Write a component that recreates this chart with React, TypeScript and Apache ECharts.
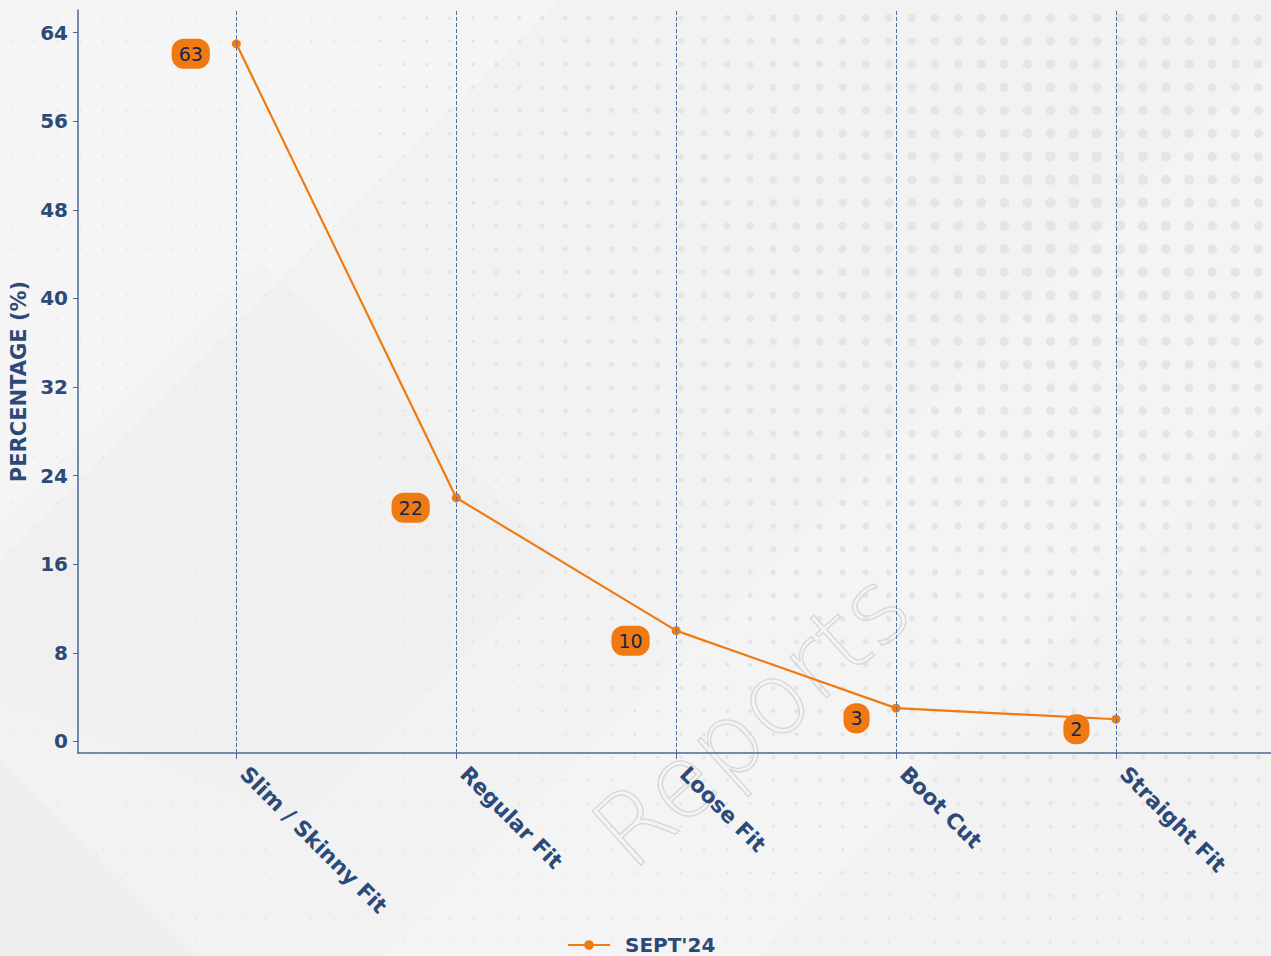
import React, { useEffect, useRef } from "react";
import * as echarts from "echarts";

const categories = ["Slim / Skinny Fit", "Regular Fit", "Loose Fit", "Boot Cut", "Straight Fit"];
const sept24 = [63, 22, 10, 3, 2];
const yTicks = [0, 8, 16, 24, 32, 40, 48, 56, 64];
const seriesName = "SEPT'24";

const W = 1271;
const H = 956;
const AXIS = "#4a6896";
const TEXT = "#2c4a77";
const ORANGE = "#f07a12";

function buildBackground(): any[] {
  const els: any[] = [];
  els.push({ type: "rect", z: -20, shape: { x: 0, y: 0, width: W, height: H }, style: { fill: "#f2f2f2" }, silent: true });
  els.push({ type: "polygon", z: -19, shape: { points: [[0, 0], [560, 0], [0, 560]] }, style: { fill: "rgba(255,255,255,0.25)" }, silent: true });
  els.push({ type: "polygon", z: -19, shape: { points: [[0, 520], [260, 260], [560, 560], [300, 820], [0, 700]] }, style: { fill: "rgba(0,0,0,0.008)" }, silent: true });
  els.push({ type: "polygon", z: -19, shape: { points: [[0, 760], [200, 956], [0, 956]] }, style: { fill: "rgba(0,0,0,0.012)" }, silent: true });
  els.push({ type: "polygon", z: -19, shape: { points: [[380, 956], [1271, 60], [1271, 420], [760, 956]] }, style: { fill: "rgba(255,255,255,0.15)" }, silent: true });
  const cx = 1090, cy = 210;
  for (let x = 11; x < W; x += 23.1) {
    for (let y = 18; y < H; y += 23.1) {
      const d = Math.hypot(x - cx, y - cy);
      let r = 5.5 - d * 0.0056;
      if (x < 370) r = Math.min(r, 0.9);
      if (r < 0.9) r = 0.9;
      els.push({ type: "circle", z: -18, silent: true, shape: { cx: x, cy: y, r }, style: { fill: "#e5e5e5" } });
    }
  }
  els.push({
    type: "text",
    z: -17,
    silent: true,
    x: 642,
    y: 885,
    rotation: (42 * Math.PI) / 180,
    style: {
      text: "Reports",
      fontSize: 100,
      fontFamily: "DejaVu Sans",
      fontWeight: 200,
      fill: "rgba(0,0,0,0)",
      stroke: "#d6d6d6",
      lineWidth: 1.3,
      textAlign: "left",
      textVerticalAlign: "bottom",
    },
  });
  return els;
}

export default function App() {
  const ref = useRef<HTMLDivElement>(null);
  useEffect(() => {
    if (!ref.current) return;
    const chart = echarts.init(ref.current, null, { renderer: "svg" });
    const idx = categories.map((_, i) => i);
    chart.setOption({
      animation: false,
      textStyle: { fontFamily: "DejaVu Sans" },
      graphic: buildBackground(),
      grid: { left: 78, right: 0, top: 10, bottom: 203, containLabel: false },
      legend: {
        data: [seriesName],
        left: 567,
        top: 935,
        padding: 0,
        itemWidth: 42,
        itemHeight: 12,
        textStyle: { fontSize: 20, fontWeight: "bold", color: TEXT, fontFamily: "DejaVu Sans", padding: [0, 0, 0, 10] },
      },
      xAxis: {
        type: "value",
        min: -0.72,
        max: 4.705,
        axisLine: { show: true, onZero: false, lineStyle: { color: AXIS, width: 1.5 } },
        axisTick: { show: true, customValues: idx, length: 6, lineStyle: { color: AXIS, width: 1 } },
        axisLabel: {
          customValues: idx,
          formatter: (v: number) => categories[Math.round(v)] ?? "",
          rotate: -45,
          fontSize: 21.5,
          fontWeight: "bold",
          color: TEXT,
          margin: 25,
          verticalAlign: "bottom",
          fontFamily: "DejaVu Sans",
        },
        splitLine: { show: false },
      },
      yAxis: {
        type: "value",
        min: -1.05,
        max: 66.05,
        name: "PERCENTAGE (%)",
        nameLocation: "middle",
        nameGap: 48,
        nameTextStyle: { fontSize: 21, fontWeight: "bold", color: TEXT, fontFamily: "DejaVu Sans" },
        axisLine: { show: true, onZero: false, lineStyle: { color: AXIS, width: 1.5 } },
        axisTick: { show: true, customValues: yTicks, length: 5, lineStyle: { color: AXIS, width: 1 } },
        axisLabel: {
          customValues: yTicks,
          fontSize: 20,
          fontWeight: "bold",
          color: TEXT,
          margin: 10,
          fontFamily: "DejaVu Sans",
        },
        splitLine: { show: false },
      },
      series: [
        {
          name: seriesName,
          type: "line",
          data: sept24.map((v, i) => [i, v]),
          symbol: "circle",
          symbolSize: 9,
          itemStyle: { color: ORANGE },
          lineStyle: { color: ORANGE, width: 2.2 },
          label: {
            show: true,
            position: "left",
            distance: 22,
            offset: [0, 10],
            formatter: (p: any) => String(p.value[1]),
            backgroundColor: ORANGE,
            borderRadius: 12,
            padding: [6, 7, 5, 7],
            color: "#14264a",
            fontSize: 19,
            fontWeight: 500,
            fontFamily: "DejaVu Sans",
          },
          markLine: {
            silent: true,
            symbol: ["none", "none"],
            label: { show: false },
            lineStyle: { color: "#5270a0", width: 1, type: [4, 2] },
            data: idx.map((i) => ({ xAxis: i })),
          },
          z: 3,
        },
      ],
    });
    return () => chart.dispose();
  }, []);
  return <div ref={ref} style={{ position: "absolute", left: 0, top: 0, width: W, height: H }} />;
}
